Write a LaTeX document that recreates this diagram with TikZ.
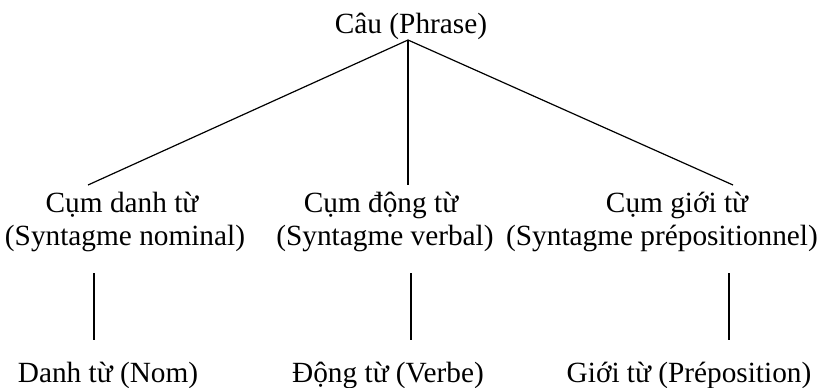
\documentclass[tikz,border=0pt]{standalone}
\usepackage{fontspec}
\setmainfont{Liberation Serif}
\begin{document}
\begin{tikzpicture}[x=1pt,y=-1pt,
  lbl/.style={anchor=base,inner sep=0pt,font=\fontsize{29.3}{33}\selectfont},
  branch/.style={draw=black,line width=1.2pt}]
\useasboundingbox (0,0) rectangle (822,388);

% root
\node[lbl] (root) at (411,33) {Câu (Phrase)};
\coordinate (apex) at (408,40);

% phrase level
\node[lbl] (np)   at (122,212) {Cụm danh từ};
\node[lbl] (npfr) at (125,245) {(Syntagme nominal)};
\node[lbl] (vp)   at (381,212) {Cụm động từ};
\node[lbl] (vpfr) at (385,245) {(Syntagme verbal)};
\node[lbl] (pp)   at (677,212) {Cụm giới từ};
\node[lbl] (ppfr) at (662,245) {(Syntagme prépositionnel)};

% word level
\node[lbl] (n) at (108,382) {Danh từ (Nom)};
\node[lbl] (v) at (388,382) {Động từ (Verbe)};
\node[lbl] (p) at (689,382) {Giới từ (Préposition)};

% attachment points
\coordinate (npT) at (88,185);
\coordinate (vpT) at (408,185);
\coordinate (ppT) at (733,185);
\coordinate (npB) at (94,273);
\coordinate (vpB) at (411,273);
\coordinate (ppB) at (729,273);
\coordinate (nT) at (94,340);
\coordinate (vT) at (411,340);
\coordinate (pT) at (729,340);

% branches
\draw[branch] (apex) -- (npT);
\draw[branch] (apex) -- (vpT);
\draw[branch] (apex) -- (ppT);
\draw[branch] (npB) -- (nT);
\draw[branch] (vpB) -- (vT);
\draw[branch] (ppB) -- (pT);
\end{tikzpicture}
\end{document}
